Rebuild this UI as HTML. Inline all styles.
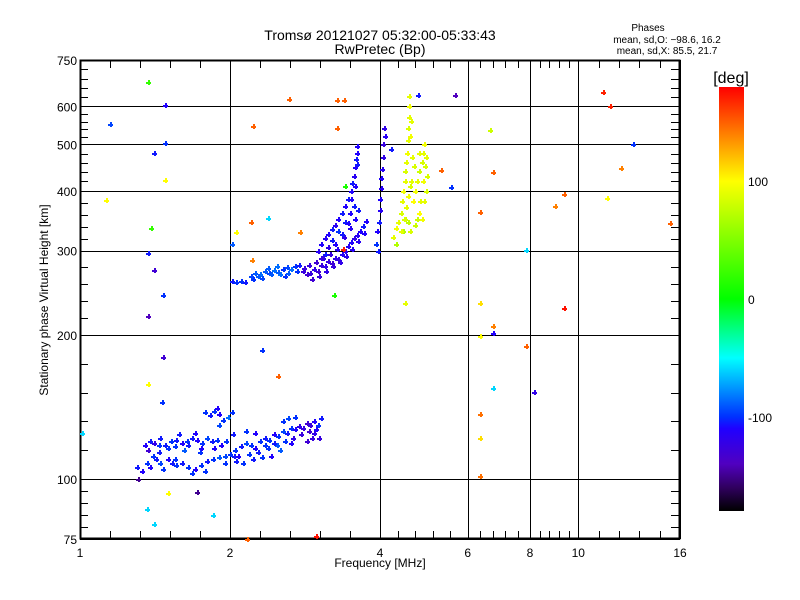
<!DOCTYPE html>
<html><head><meta charset="utf-8"><style>
body{margin:0;background:#fff;}
svg{display:block;font-family:"Liberation Sans",sans-serif;}
</style></head><body>
<svg id="chart" width="800" height="600" xmlns="http://www.w3.org/2000/svg">
<defs><linearGradient id="cbar" x1="0" y1="1" x2="0" y2="0">
<stop offset="0" stop-color="#000000"/><stop offset="0.056" stop-color="#300060"/><stop offset="0.111" stop-color="#5000c0"/><stop offset="0.194" stop-color="#2000ff"/><stop offset="0.222" stop-color="#0030ff"/><stop offset="0.361" stop-color="#00ffff"/><stop offset="0.5" stop-color="#00ff00"/><stop offset="0.778" stop-color="#ffff00"/><stop offset="0.889" stop-color="#ff8000"/><stop offset="1" stop-color="#ff0000"/>
</linearGradient></defs>
<text x="380" y="40" font-size="14" text-anchor="middle">Tromsø 20121027 05:32:00-05:33:43</text>
<text x="380" y="54" font-size="14" text-anchor="middle">RwPretec (Bp)</text>
<g font-size="10" text-anchor="middle">
<text x="648" y="31">Phases</text>
<text x="667" y="43">mean, sd,O: −98.6, 16.2</text>
<text x="667" y="54">mean, sd,X:  85.5, 21.7</text>
</g>
<text x="380" y="567" font-size="12" text-anchor="middle">Frequency [MHz]</text>
<text transform="translate(48,300) rotate(-90)" font-size="12" text-anchor="middle">Stationary phase Virtual Height [km]</text>
<g id="axes"></g>
<g id="marks"></g>
<rect x="719" y="87" width="25" height="424" fill="url(#cbar)"/>
<text x="731" y="83" font-size="16" text-anchor="middle">[deg]</text>
<g id="cbticks"></g>
</svg>
<script>
// ---- data ----
const xMajors=[1,2,4,6,8,10,16];
const yMajors=[75,100,200,300,400,500,600,750];
const cbTicks=[100,0,-100];
// E layer (O mode)
const eFreq=[1.30,1.33,1.36,1.38,1.42,1.45,1.47,1.50,1.53,1.56,1.40,1.44,1.35,1.38,1.41,1.44,1.48,1.52,1.56,1.60,1.64,1.68,1.72,1.76,1.80,1.84,1.88,1.92,1.96,1.37,1.50,1.62,1.74,1.86,1.58,1.70,1.55,1.60,1.65,1.70,1.75,1.80,1.85,1.90,1.95,2.00,2.04,1.68,1.78,1.78,1.82,1.86,1.90,1.94,1.98,1.88,2.02,2.05,2.10,2.15,2.20,2.25,2.30,2.35,2.40,2.45,2.50,2.55,2.60,2.65,2.70,2.75,2.80,2.85,2.90,2.95,3.00,3.05,2.08,2.18,2.28,2.38,2.48,2.58,2.68,2.78,2.88,2.98,2.55,2.62,2.70,2.12,2.22,2.32,2.42,2.52,2.03,2.15,2.25,2.85,2.92,1.45,1.55,1.65,1.75,1.95,2.06,2.35,2.45,2.65,2.95,3.02,1.90];
const eHeight=[106,104,108,106,110,108,105,110,108,107,112,114,118,120,119,118,118,120,121,119,120,122,121,119,122,120,121,118,120,115,116,115,114,116,124,125,110,108,106,105,107,109,110,111,112,113,112,103,104,138,136,139,137,133,135,141,138,115,117,119,118,116,120,122,121,124,123,126,125,128,127,129,128,131,130,132,130,134,112,113,114,116,118,120,122,124,126,127,132,134,135,108,110,111,112,115,124,126,125,120,122,122,117,118,116,108,109,118,119,119,125,122,130];
const ePhase=[-105,-110,-100,-110,-105,-95,-100,-110,-105,-100,-100,-105,-110,-105,-120,-100,-105,-100,-105,-110,-100,-105,-110,-100,-95,-105,-100,-110,-100,-130,-100,-90,-100,-110,-105,-110,-100,-105,-100,-110,-100,-105,-100,-90,-95,-100,-105,-100,-100,-100,-105,-100,-110,-100,-85,-110,-100,-100,-105,-95,-100,-110,-100,-105,-100,-110,-100,-95,-105,-100,-110,-120,-125,-130,-125,-110,-100,-105,-110,-100,-105,-100,-90,-100,-120,-125,-130,-110,-100,-95,-100,-100,-105,-100,-110,-90,-105,-100,-110,-130,-125,-105,-100,-105,-110,-100,-105,-100,-105,-110,-120,-125,-95];
// F layer (O mode)
const fFreq=[2.02,2.06,2.10,2.14,2.20,2.25,2.30,2.35,2.40,2.45,2.50,2.55,2.60,2.65,2.70,2.75,2.38,2.48,2.58,2.32,2.80,2.85,2.90,2.95,3.00,3.05,3.10,3.15,3.20,3.25,3.30,3.35,3.40,3.45,3.50,3.55,3.60,3.65,3.70,3.75,2.88,2.98,3.08,3.18,3.28,3.00,3.05,3.10,3.15,3.20,3.25,3.30,3.35,3.40,3.45,3.50,3.52,3.55,3.57,3.58,3.59,3.60,3.20,3.30,3.40,3.48,3.38,3.48,3.56,3.62,3.10,3.95,3.98,4.00,4.00,4.01,4.02,4.03,4.05,4.06,4.08,3.92,3.96,4.10,4.20,2.22,2.28,2.42,2.52,2.62,2.72,2.82,2.92,3.02,3.12,3.22,3.32,3.42,3.52,3.62,3.72,3.25,3.35,3.45,3.55,3.50,3.56,3.60,3.15,3.05];
const fHeight=[259,258,259,258,266,270,268,272,270,273,271,275,277,274,278,280,276,278,266,263,272,268,270,275,272,280,278,285,283,290,288,295,300,306,312,318,324,330,338,346,280,284,290,295,302,300,310,318,325,333,340,350,360,372,385,400,415,430,448,465,480,495,315,330,345,360,320,335,350,365,295,330,345,365,385,405,425,445,470,500,540,310,300,520,490,262,265,268,268,270,272,276,262,266,272,278,284,292,302,314,326,310,325,342,372,385,410,455,305,290];
const fPhase=[-105,-100,-100,-105,-95,-90,-85,-90,-95,-85,-90,-100,-95,-85,-100,-105,-90,-85,-100,-95,-125,-130,-125,-120,-130,-125,-120,-125,-130,-120,-125,-115,-120,-115,-110,-120,-115,-110,-105,-110,-125,-130,-120,-125,-115,-115,-110,-115,-110,-105,-115,-110,-105,-110,-105,-110,-105,-115,-110,-105,-110,-110,-105,-100,-105,-110,-120,-115,-110,-105,-105,-110,-105,-115,-110,-115,-110,-115,-120,-125,-120,-100,-105,-115,-105,-100,-90,-90,-85,-90,-100,-125,-130,-125,-120,-125,-120,-120,-115,-115,-110,-110,-105,-110,-105,-110,-110,-105,-120,-125];
// X mode trace
const xFreq=[4.30,4.35,4.40,4.42,4.45,4.48,4.50,4.52,4.53,4.55,4.56,4.57,4.58,4.58,4.50,4.55,4.60,4.45,4.65,4.70,4.75,4.80,4.85,4.88,4.90,4.80,4.85,4.90,4.95,4.70,4.62,4.68,4.25,4.30,4.40,4.46,4.52,4.56,4.60,4.63,4.60,4.62,4.75,4.82,4.88,4.92,4.95,4.98,4.78];
const xHeight=[335,345,360,380,400,420,440,460,480,510,540,570,600,630,350,345,330,330,380,400,420,440,460,480,500,360,350,380,400,340,420,450,320,310,330,350,370,390,410,470,520,560,350,380,420,450,470,430,480];
const xPhase=[95,90,85,90,95,90,85,90,95,90,85,90,95,90,80,75,85,70,100,95,90,80,85,90,95,100,95,90,85,80,90,85,90,70,90,85,90,95,85,90,95,90,80,90,95,85,90,85,90];
// Scattered points
const sFreq=[1.15,1.13,1.37,1.48,1.48,1.41,1.48,1.39,1.37,1.41,1.47,1.37,1.01,1.47,1.37,1.46,1.31,1.36,1.41,1.50,1.72,1.85,2.16,2.22,2.32,2.50,2.02,2.38,2.63,3.28,3.39,3.28,3.24,2.97,4.77,2.20,2.76,2.21,2.06,3.37,3.41,4.49,5.66,11.2,11.6,6.64,12.9,5.30,6.75,5.55,12.2,9.34,9.00,11.4,6.35,15.3,7.86,6.35,6.75,6.75,9.34,6.35,7.86,6.75,8.15,6.35,6.35,6.35];
const sHeight=[551,383,675,604,503,480,421,334,297,273,242,219,125,180,158,145,100,86.6,80.6,93.5,94,84,75,546,186,164,310,351,621,618,618,541,242,76,634,345,328,287,328,303,410,233,634,643,601,536,501,442,438,407,446,394,372,386,362,343,301,233,209,202,228,199,190,155,152,137,122,101.5];
const sPhase=[-95,100,20,-110,-100,-105,100,20,-105,-130,-100,-140,-60,-130,100,-100,-150,-60,-60,100,-150,-60,150,150,-100,150,-90,-60,150,150,150,150,10,175,-105,150,140,140,100,170,10,90,-140,170,170,80,-100,150,150,-100,140,150,140,100,150,150,-60,110,140,-110,175,100,150,-60,-120,145,110,145];

// ---- scales ----
const L=80,R=680,T=60,B=539;
function xs(f){return L+(R-L)*Math.log2(f)/4;}
function ys(h){return B-(B-T)*Math.log10(h/75);}
const stops=[[-180,0,0,0],[-160,48,0,96],[-140,80,0,192],[-110,32,0,255],[-100,0,48,255],[-50,0,255,255],[0,0,255,0],[100,255,255,0],[140,255,128,0],[180,255,0,0]];
function hx(v){v=Math.max(0,Math.min(255,Math.round(v)));return (v<16?'0':'')+v.toString(16);}
function col(p){p=Math.max(-180,Math.min(180,p));for(let i=1;i<stops.length;i++){if(p<=stops[i][0]){const a=stops[i-1],b=stops[i],t=(p-a[0])/(b[0]-a[0]);return '#'+hx(a[1]+t*(b[1]-a[1]))+hx(a[2]+t*(b[2]-a[2]))+hx(a[3]+t*(b[3]-a[3]));}}return '#ff0000';}
const NS='http://www.w3.org/2000/svg';
function mk(tag,attrs,parent){const e=document.createElementNS(NS,tag);for(const k in attrs)e.setAttribute(k,attrs[k]);parent.appendChild(e);return e;}

// ---- axes ----
const ax=document.getElementById('axes');
let d='';
xMajors.forEach((v,i)=>{const x=Math.round(xs(v))+0.5;d+=`M${x} ${T}V${B}`;
 if(i<xMajors.length-1){const x2=xs(xMajors[i+1]);for(let k=1;k<5;k++){const xm=Math.round(xs(v)+(x2-xs(v))*k/5)+0.5;d+=`M${xm} ${B}v-8M${xm} ${T}v8`;}}
 const t=mk('text',{x:xs(v),y:B+18,'font-size':12,'text-anchor':'middle'},ax);t.textContent=v;
 
 
});
yMajors.forEach((v,i)=>{const y=Math.round(ys(v))+0.5;d+=`M${L} ${y}H${R}`;
 if(i<yMajors.length-1){const y2=ys(yMajors[i+1]);for(let k=1;k<5;k++){const ym=Math.round(ys(v)+(y2-ys(v))*k/5)+0.5;d+=`M${L} ${ym}h8M${R} ${ym}h-9`;}}
 const t=mk('text',{x:L-3,y:ys(v)+5,'font-size':12,'text-anchor':'end'},ax);t.textContent=v;
 
 
});
const g=mk('path',{d:d,stroke:'#000','stroke-width':1,fill:'none','shape-rendering':'crispEdges'},ax);


const fr=mk('rect',{x:L+0.5,y:T+0.5,width:R-L-1,height:B-T-1,fill:'none',stroke:'#000','stroke-width':2},ax);



// ---- marks ----
const mg=document.getElementById('marks');
function plot(F,H,P,name){for(let i=0;i<F.length;i++){const x=Math.round(xs(F[i])),y=Math.round(ys(H[i]));const c=col(P[i]);
 const gg=mk('g',{fill:c},mg);
 
 
 mk('rect',{x:x-2,y:y,width:5,height:2},gg);
 mk('rect',{x:x,y:y-2,width:2,height:5},gg);}}
plot(eFreq,eHeight,ePhase,'e-layer-point');
plot(fFreq,fHeight,fPhase,'f-layer-point');
plot(xFreq,xHeight,xPhase,'x-mode-point');
plot(sFreq,sHeight,sPhase,'scatter-point');

// ---- colorbar ticks ----
const cb=document.getElementById('cbticks');
function cy(p){return 511-(p+180)/360*424;}
cbTicks.forEach(v=>{
 const t=mk('text',{x:748,y:cy(v)+5,'font-size':12,'text-anchor':'start'},cb);t.textContent=v;
 
 });
</script>
</body></html>
